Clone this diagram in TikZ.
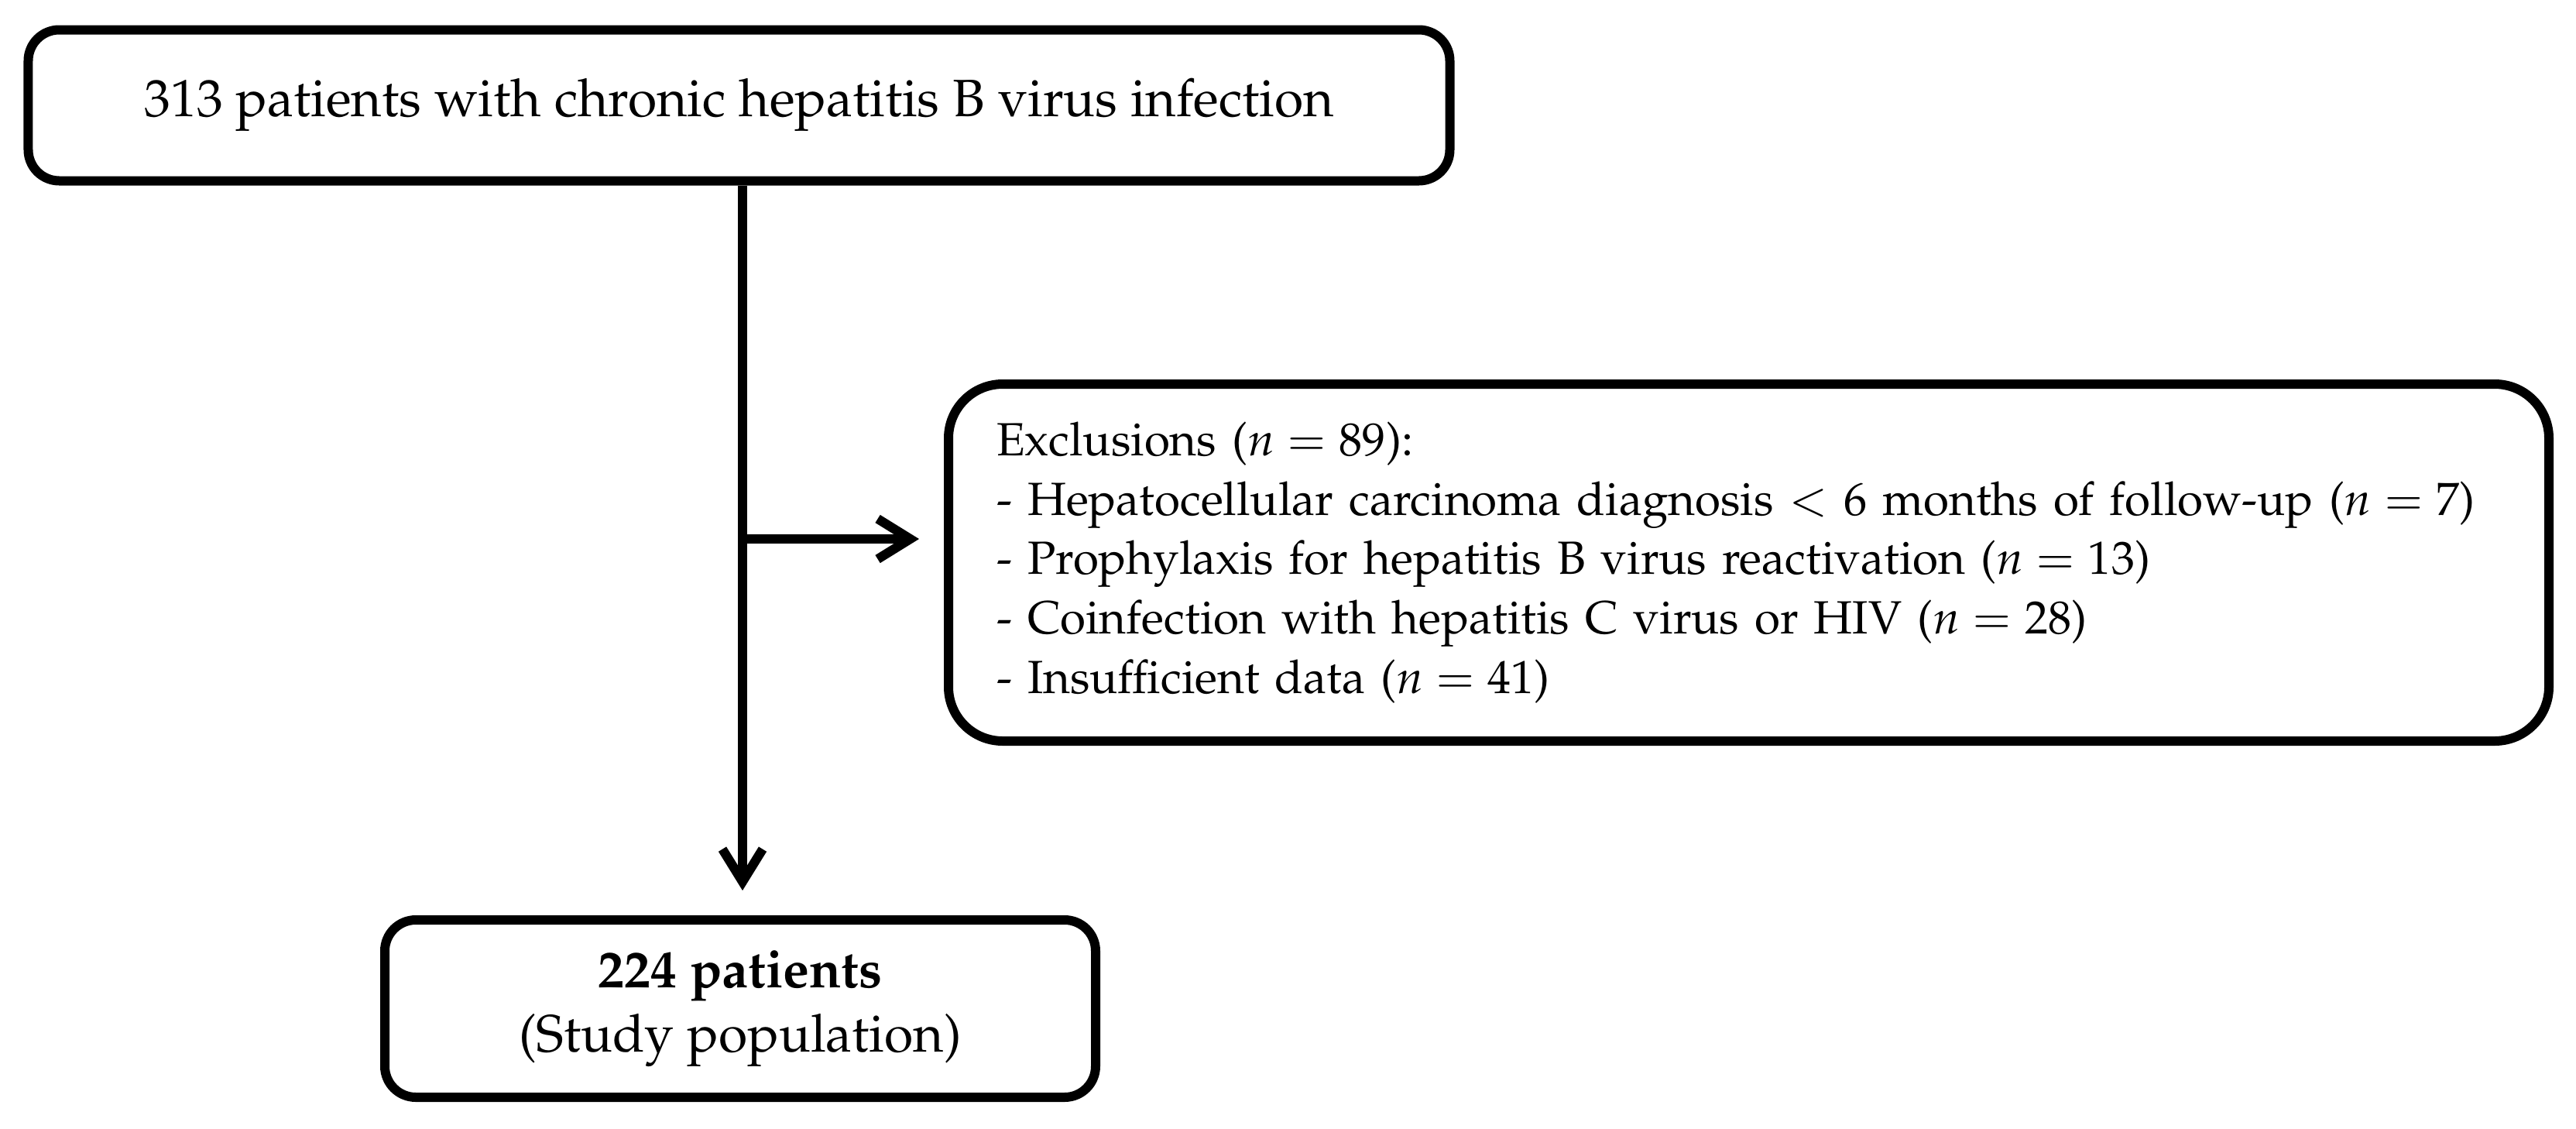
\documentclass[tikz,border=0pt]{standalone}
\usepackage[T1]{fontenc}
\usepackage{mathpazo}
\usetikzlibrary{arrows.meta,positioning,calc}

\begin{document}
\begin{tikzpicture}[
    box/.style={draw,line width=0.12cm,rounded corners=0.4cm,inner sep=0pt,align=center},
    arr/.style={-{Straight Barb[length=0.42cm,width=0.52cm]},line width=0.12cm}]
  \useasboundingbox (0,0) rectangle (33.27,-14.57);
  \node[box,minimum width=18.36cm,minimum height=1.95cm,
    font=\fontsize{19.3}{23}\selectfont] (cohort) at (9.545,-1.36)
    {313 patients with chronic hepatitis B virus infection};
  \node[box,rounded corners=0.7cm,minimum width=20.67cm,minimum height=4.61cm,
    text width=19.43cm,align=left,inner xsep=0.62cm,
    font=\fontsize{17.1}{21.8}\selectfont] (excl) at (22.585,-7.265)
    {Exclusions ($n = 89$):\\
     - Hepatocellular carcinoma diagnosis $<$ 6 months of follow-up ($n = 7$)\\
     - Prophylaxis for hepatitis B virus reactivation ($n = 13$)\\
     - Coinfection with hepatitis C virus or HIV ($n = 28$)\\
     - Insufficient data ($n = 41$)};
  \node[box,minimum width=9.18cm,minimum height=2.29cm,
    font=\fontsize{19.3}{23.6}\selectfont] (study) at (9.56,-13.025)
    {\textbf{224 patients}\\(Study population)};
  \coordinate (split) at (9.59,-6.96);
  \draw[arr,shorten >=0.32cm] (cohort.south -| split) -- (study.north -| split);
  \draw[arr,shorten >=0.32cm] (split) -- (split -| excl.west);
\end{tikzpicture}
\end{document}
